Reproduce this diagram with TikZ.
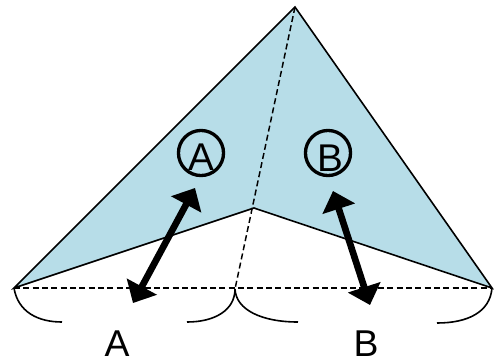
\documentclass[tikz,border=0pt]{standalone}
\usepackage{fontspec}
\setmainfont{Liberation Sans}
\usetikzlibrary{arrows.meta}
\definecolor{lblue}{HTML}{B7DDE8}
\tikzset{
  edge/.style={line width=1.2pt, line join=miter},
  dash line/.style={line width=1.1pt, dash pattern=on 4.5pt off 2.5pt},
  brace/.style={line width=1.2pt},
  bigarrow/.style={line width=5pt, {Triangle[length=14pt,width=25pt]}-{Triangle[length=14pt,width=25pt]}},
  ring/.style={circle, draw, line width=2.5pt, minimum size=33.8pt, inner sep=0pt},
  ringtext/.style={inner sep=0pt, font=\fontsize{29}{29}\selectfont},
  lbl/.style={inner sep=0pt, font=\fontsize{28}{28}\selectfont}
}
\begin{document}
\begin{tikzpicture}[x=0.75pt,y=-0.75pt]
\useasboundingbox (0,0) rectangle (494,362);
\coordinate (apex) at (295,7);
\coordinate (R) at (492,288);
\coordinate (I) at (254,208);
\coordinate (L) at (14,288);
\coordinate (M) at (235,289);
\fill[lblue] (apex) -- (R) -- (I) -- (L) -- cycle;
\draw[edge] (apex) -- (R) -- (I) -- (L) -- cycle;
\draw[dash line] (apex) -- (M);
\draw[dash line] (L) -- (R);
% braces
\coordinate (b1) at (62,322);
\coordinate (b2) at (187,322);
\coordinate (b3) at (298,322);
\coordinate (b4) at (437,323);
\draw[brace] (L) .. controls (18,312) and (38,322) .. (b1);
\draw[brace] (b2) .. controls (215,322) and (235,310) .. (M);
\draw[brace] (M) .. controls (236,310) and (262,322) .. (b3);
\draw[brace] (b4) .. controls (468,323) and (490,312) .. (R);
% circled labels
\node[ring] (cA) at (201,153) {};
\node[ringtext] (tA) at (201,157.5) {A};
\node[ring] (cB) at (328,153) {};
\node[ringtext] (tB) at (330.5,158) {B};
% arrows
\coordinate (a1) at (195,188);
\coordinate (a2) at (133,303);
\coordinate (c1) at (333,191);
\coordinate (c2) at (370,305);
\draw[bigarrow] (a1) -- (a2);
\draw[bigarrow] (c1) -- (c2);
% bottom labels
\node[lbl] (lA) at (117,344) {A};
\node[lbl] (lB) at (366,344) {B};
\end{tikzpicture}
\end{document}
